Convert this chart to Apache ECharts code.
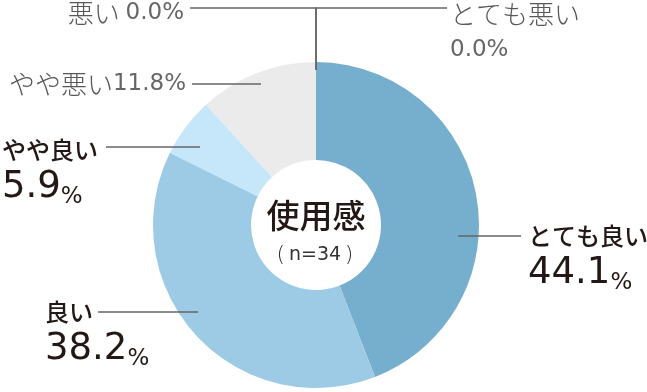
<!DOCTYPE html>
<html><head><meta charset="utf-8">
<script src="https://cdn.jsdelivr.net/npm/echarts@6/dist/echarts.min.js"></script>
<style>html,body{margin:0;padding:0;background:#fff}#c{width:647px;height:392px}</style>
</head><body><div id="c"></div>
<script>
// ---- data ----
const categories = ['とても良い', '良い', 'やや良い', 'やや悪い', '悪い', 'とても悪い'];
const percents = [44.1, 38.2, 5.9, 11.8, 0.0, 0.0];
const colors = ['#76aecd', '#9dcbe5', '#c6e7f9', '#ebebeb', '#dcdcdc', '#d0d0d0'];
const labelKinds = ['main', 'main', 'main', 'inline', 'inlineSpace', 'stacked'];
const centerTitle = '使用感';
const centerNote = 'n=34';

// ---- label placement (layout only) ----
const labelPlace = [
  { x: 528, y: 221, align: 'left', va: 'top', line: [[458, 236], [490, 236], [521, 236]] },
  { x: 45, y: 297, align: 'left', va: 'top', line: [[198, 312], [150, 312], [98, 312]] },
  { x: 2, y: 135, align: 'left', va: 'top', line: [[200, 147], [150, 147], [106, 147]] },
  { x: 186, y: 84, align: 'right', va: 'middle', line: [[261, 84], [230, 84], [192, 84]] },
  { x: 184, y: 13, align: 'right', va: 'middle', line: [[316, 70], [316, 8], [190, 8]] },
  { x: 450, y: -1, align: 'left', va: 'top', line: [[316, 70], [316, 8], [447, 8]] }
];

const JP = '"Noto Sans CJK JP"';
const NUM = '"DejaVu Sans"';
const BLACK = '#231815';
const GRAY = '#595757';

function fmt(params) {
  const i = params.dataIndex;
  const n = categories[i];
  const v = percents[i].toFixed(1);
  switch (labelKinds[i]) {
    case 'main': return '{name|' + n + '}\n{big|' + v + '}{pct|%}';
    case 'inline': return '{gray|' + n + '}{grayNum|' + v + '%}';
    case 'inlineSpace': return '{gray|' + n + ' }{grayNum|' + v + '%}';
    default: return '{gray|' + n + '}\n{grayNum2|' + v + '%}';
  }
}

const pieBase = {
  type: 'pie',
  center: [316, 225],
  radius: [65, 163],
  startAngle: 90,
  clockwise: true,
  avoidLabelOverlap: false,
  silent: true,
  emphasis: { disabled: true },
  itemStyle: { borderWidth: 0 }
};

const chart = echarts.init(document.getElementById('c'), null, { renderer: 'canvas' });
chart.setOption({
  animation: false,
  backgroundColor: '#fff',
  graphic: [
    { type: 'text', x: 316, y: 215, silent: true, z: 10,
      style: { text: centerTitle, fill: BLACK, font: '500 33px ' + JP, align: 'center', verticalAlign: 'middle' } },
    { type: 'text', x: 315, y: 255, silent: true, z: 10,
      style: {
        text: '{p|(}{t|\u2009' + centerNote + '\u2009}{p|)}', align: 'center', verticalAlign: 'middle',
        rich: {
          p: { fontFamily: NUM, fontSize: 22, fontWeight: 200, fill: '#333', lineHeight: 26 },
          t: { fontFamily: NUM, fontSize: 19, fontWeight: 400, fill: '#333', lineHeight: 26 }
        }
      } }
  ],
  series: [
    Object.assign({}, pieBase, {
      z: 2,
      data: categories.map((c, i) => ({ name: c, value: percents[i], itemStyle: { color: colors[i] } })),
      label: { show: false },
      labelLine: { show: false }
    }),
    Object.assign({}, pieBase, {
      z: 3,
      data: categories.map((c, i) => ({ name: c, value: percents[i], itemStyle: { color: 'rgba(0,0,0,0)' } })),
      label: {
        show: true,
        position: 'outside',
        formatter: fmt,
        rich: {
          name: { fontFamily: JP, fontSize: 24, fontWeight: 500, color: BLACK, lineHeight: 30 },
          big: { fontFamily: NUM, fontSize: 37, color: BLACK, lineHeight: 44 },
          pct: { fontFamily: NUM, fontSize: 23, color: BLACK, lineHeight: 34, verticalAlign: 'bottom' },
          gray: { fontFamily: JP, fontSize: 26, fontWeight: 300, color: GRAY, lineHeight: 30 },
          grayNum: { fontFamily: NUM, fontSize: 23, fontWeight: 400, color: '#666', lineHeight: 30 },
          grayNum2: { fontFamily: NUM, fontSize: 23, fontWeight: 400, color: '#666', lineHeight: 42 }
        }
      },
      labelLine: { show: true, lineStyle: { color: '#666', width: 1.5 } },
      labelLayout: function (p) {
        const L = labelPlace[p.dataIndex];
        return { x: L.x, y: L.y, align: L.align, verticalAlign: L.va, labelLinePoints: L.line };
      }
    })
  ]
});
</script></body></html>
